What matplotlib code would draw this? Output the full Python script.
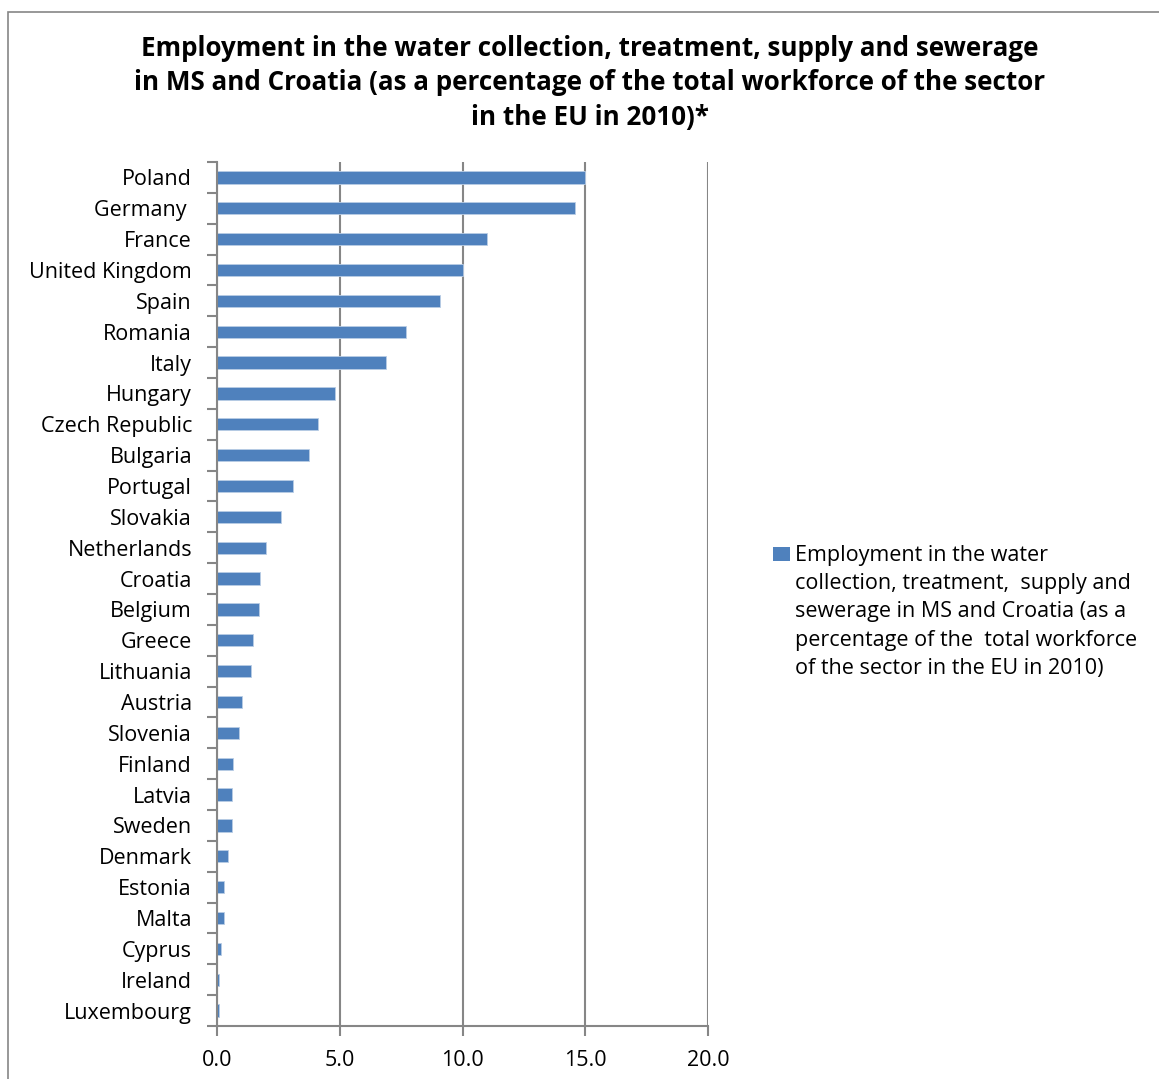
import matplotlib.pyplot as plt
from matplotlib.patches import Rectangle

countries = ['Poland', 'Germany ', 'France', 'United Kingdom', 'Spain', 'Romania',
             'Italy', 'Hungary', 'Czech Republic', 'Bulgaria', 'Portugal', 'Slovakia',
             'Netherlands', 'Croatia', 'Belgium', 'Greece', 'Lithuania', 'Austria',
             'Slovenia', 'Finland', 'Latvia', 'Sweden', 'Denmark', 'Estonia', 'Malta',
             'Cyprus', 'Ireland', 'Luxembourg']
values = [15.0, 14.6, 11.0, 10.0, 9.1, 7.7, 6.9, 4.8, 4.1, 3.75, 3.1, 2.6,
          2.0, 1.75, 1.7, 1.47, 1.38, 1.0, 0.9, 0.67, 0.6, 0.6, 0.43, 0.27, 0.27,
          0.18, 0.1, 0.1]
xticks = [0, 5, 10, 15, 20]

title = ('Employment in the water collection, treatment, supply and sewerage\n'
         'in MS and Croatia (as a percentage of the total workforce of the sector\n'
         'in the EU in 2010)*')
legend_label = ('Employment in the water\ncollection, treatment,  supply and\n'
                'sewerage in MS and Croatia (as a\npercentage of the  total workforce\n'
                'of the sector in the EU in 2010)')

plt.rcParams['font.family'] = ['Open Sans', 'DejaVu Sans']
blue = '#4F81BD'
grey = '#868686'

fig = plt.figure(figsize=(11.59, 10.79), dpi=100)
fig.patches.append(Rectangle((8 / 1159, -0.01), 1.2, 1 - 12 / 1079 + 0.01,
                             transform=fig.transFigure, fill=False,
                             edgecolor=grey, linewidth=1.2))

ax = fig.add_axes([217 / 1159, 1 - 1026 / 1079, 491 / 1159, 864 / 1079])
n = len(countries)
pos = list(range(n))
ax.barh(pos, values, height=0.4, color=blue, edgecolor='#B9CDE5', linewidth=0.6)
ax.set_ylim(n - 0.5, -0.5)
ax.set_xlim(0, 20)

ax.set_yticks(pos)
ax.set_yticklabels(countries, fontsize=15.5)
ax.set_yticks([i - 0.5 for i in range(n + 1)], minor=True)
ax.tick_params(axis='y', which='major', length=0, pad=18)
ax.tick_params(axis='y', which='minor', length=7, width=1.5, color=grey)

ax.set_xticks(xticks)
ax.set_xticklabels(['%.1f' % t for t in xticks], fontsize=15.5)
ax.tick_params(axis='x', length=7, width=1.5, color=grey, pad=10)

ax.grid(axis='x', color=grey, linewidth=1.5)
ax.set_axisbelow(True)
for s in ['top', 'right']:
    ax.spines[s].set_visible(False)
for s in ['left', 'bottom']:
    ax.spines[s].set_color(grey)
    ax.spines[s].set_linewidth(1.5)

fig.text(590 / 1159, 1 - 35 / 1079, title, ha='center', va='top',
         fontsize=18.7, fontweight='bold', linespacing=1.35)

# legend drawn by hand so the key lines up with the first text line
fig.patches.append(Rectangle((773 / 1159, 1 - 561 / 1079), 17 / 1159, 14 / 1079,
                             transform=fig.transFigure, facecolor=blue,
                             edgecolor='none'))
fig.text(795 / 1159, 1 - 545 / 1079, legend_label, ha='left', va='top',
         fontsize=15.5, linespacing=1.45)

fig.savefig('out.png', dpi=100)
